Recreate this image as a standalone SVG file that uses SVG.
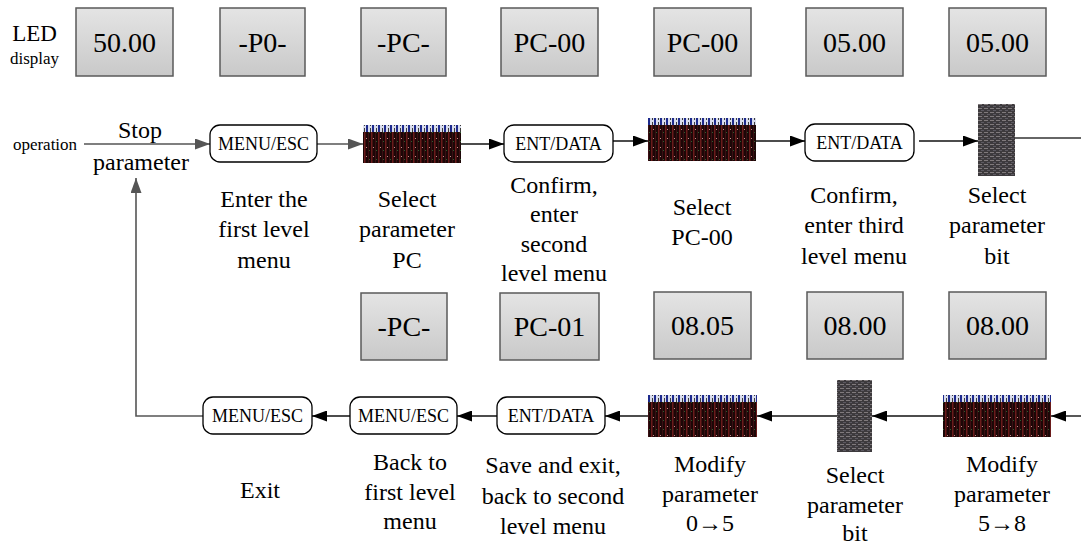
<svg xmlns="http://www.w3.org/2000/svg" width="1081" height="544" viewBox="0 0 1081 544" font-family="'Liberation Serif', Tinos, 'Times New Roman', Times, 'DejaVu Serif', serif">
<defs>
<linearGradient id="lcd" x1="0" y1="0" x2="0" y2="1">
<stop offset="0" stop-color="#e4e4e4"/>
<stop offset="1" stop-color="#c9c9c9"/>
</linearGradient>
<pattern id="keys" width="7" height="9" patternUnits="userSpaceOnUse">
<rect width="7" height="9" fill="#1c0707"/>
<rect x="0" width="1.5" height="9" fill="#6a1b1b"/>
<rect x="4" width="1" height="9" fill="#3a0f12"/>
<rect x="2" y="3" width="1" height="1" fill="#c98a8a"/>
<rect x="5" y="6" width="1" height="1" fill="#2f5e2f"/>
</pattern>
<pattern id="band" width="6" height="6" patternUnits="userSpaceOnUse">
<rect width="6" height="6" fill="#d8dcec"/>
<rect x="0" width="2" height="6" fill="#1d2a8c"/>
<rect x="4" y="2" width="1" height="4" fill="#3b3b3b"/>
</pattern>
<pattern id="tex" width="6" height="4" patternUnits="userSpaceOnUse">
<rect width="6" height="4" fill="#3d3a3d"/>
<rect y="0" width="4" height="1" fill="#807a7c"/>
<rect x="3" y="2" width="3" height="1" fill="#5d5a62"/>
</pattern>
<marker id="ab" markerWidth="15" markerHeight="11" refX="15" refY="5.5" orient="auto" markerUnits="userSpaceOnUse">
<path d="M0,0 L15,5.5 L0,11 z" fill="#000"/>
</marker>
<marker id="ag" markerWidth="15" markerHeight="11" refX="15" refY="5.5" orient="auto" markerUnits="userSpaceOnUse">
<path d="M0,0 L15,5.5 L0,11 z" fill="#555"/>
</marker>
</defs>
<style>
text{fill:#000;text-anchor:middle}
.lcd rect{fill:url(#lcd);stroke:#5a5a5a;stroke-width:1.5}
.lcd text{font-size:28px}
.btn rect{fill:#fff;stroke:#000;stroke-width:1.3}
.btn text{font-size:18px}
.lbl text{font-size:24px}
.key .k{fill:url(#keys)}
.key .b{fill:url(#band)}
.key .v{fill:url(#tex)}
.cb{fill:none;stroke:#111;stroke-width:1.4;marker-end:url(#ab)}
.cg{fill:none;stroke:#555;stroke-width:1.6;marker-end:url(#ag)}
.cn{fill:none;stroke:#333;stroke-width:1.4}
</style>

<g id="legend">
<text x="34.5" y="41" style="font-size:23px">LED</text>
<text x="34.5" y="64" style="font-size:17px">display</text>
<text x="45" y="150" style="font-size:17px">operation</text>
<text x="140" y="138" style="font-size:24px">Stop</text>
<text x="141" y="170" style="font-size:24px">parameter</text>
</g>

<!-- top LED row -->
<g id="led1" class="lcd"><rect x="76" y="8" width="97" height="68"/><text x="124.5" y="52">50.00</text></g>
<g id="led2" class="lcd"><rect x="220" y="8" width="85" height="68"/><text x="262.5" y="52">-P0-</text></g>
<g id="led3" class="lcd"><rect x="361" y="8" width="85" height="68"/><text x="403.5" y="52">-PC-</text></g>
<g id="led4" class="lcd"><rect x="501" y="8" width="97" height="68"/><text x="549.5" y="52">PC-00</text></g>
<g id="led5" class="lcd"><rect x="654" y="8" width="97" height="68"/><text x="702.5" y="52">PC-00</text></g>
<g id="led6" class="lcd"><rect x="806" y="8" width="97" height="68"/><text x="854.5" y="52">05.00</text></g>
<g id="led7" class="lcd"><rect x="949" y="8" width="97" height="68"/><text x="997.5" y="52">05.00</text></g>

<!-- bottom LED row -->
<g id="led8" class="lcd"><rect x="361" y="293" width="86" height="67"/><text x="404" y="336">-PC-</text></g>
<g id="led9" class="lcd"><rect x="500" y="293" width="99" height="67"/><text x="549.5" y="336">PC-01</text></g>
<g id="led10" class="lcd"><rect x="654" y="292" width="97" height="67"/><text x="702.5" y="335">08.05</text></g>
<g id="led11" class="lcd"><rect x="807" y="292" width="96" height="67"/><text x="855" y="335">08.00</text></g>
<g id="led12" class="lcd"><rect x="949" y="292" width="97" height="67"/><text x="997.5" y="335">08.00</text></g>

<!-- connectors -->
<g id="connectors">
<path class="cg" d="M84,144 H210"/>
<path class="cg" d="M317,144 H363"/>
<path class="cb" d="M461,144 H504"/>
<path class="cb" d="M613,141 H648"/>
<path class="cb" d="M756,141 H805"/>
<path class="cb" d="M919,141 H978"/>
<path class="cn" d="M1015,138 H1081"/>
<path class="cb" d="M1081,416 H1051"/>
<path class="cb" d="M943,416 H872"/>
<path class="cb" d="M837,416 H757"/>
<path class="cb" d="M648,416 H605"/>
<path class="cb" d="M497,416 H457"/>
<path class="cb" d="M350,416 H312"/>
<path class="cg" d="M203,416 H136 V178"/>
</g>

<!-- top operation row -->
<g id="btn1" class="btn"><rect x="210" y="125" width="107" height="37" rx="10"/><text x="263.5" y="150">MENU/ESC</text></g>
<g id="key1" class="key"><rect class="k" x="363" y="125" width="98" height="38"/><rect class="b" x="363" y="125" width="98" height="7"/></g>
<g id="btn2" class="btn"><rect x="504" y="125" width="109" height="37" rx="10"/><text x="558.5" y="150">ENT/DATA</text></g>
<g id="key2" class="key"><rect class="k" x="648" y="118" width="108" height="43"/><rect class="b" x="648" y="118" width="108" height="7"/></g>
<g id="btn3" class="btn"><rect x="805" y="124" width="109" height="37" rx="10"/><text x="859.5" y="149">ENT/DATA</text></g>
<g id="key3" class="key"><rect class="v" x="978" y="104" width="37" height="72"/></g>

<!-- bottom operation row -->
<g id="btn4" class="btn"><rect x="203" y="397" width="109" height="37" rx="10"/><text x="257.5" y="422">MENU/ESC</text></g>
<g id="btn5" class="btn"><rect x="350" y="397" width="107" height="37" rx="10"/><text x="403.5" y="422">MENU/ESC</text></g>
<g id="btn6" class="btn"><rect x="497" y="397" width="108" height="37" rx="10"/><text x="551" y="422">ENT/DATA</text></g>
<g id="key4" class="key"><rect class="k" x="648" y="395" width="109" height="42"/><rect class="b" x="648" y="395" width="109" height="7"/></g>
<g id="key5" class="key"><rect class="v" x="837" y="380" width="35" height="72"/></g>
<g id="key6" class="key"><rect class="k" x="943" y="395" width="108" height="42"/><rect class="b" x="943" y="395" width="108" height="7"/></g>

<!-- labels top -->
<g id="lbl1" class="lbl"><text x="264" y="207">Enter the</text><text x="264" y="237">first level</text><text x="264" y="268">menu</text></g>
<g id="lbl2" class="lbl"><text x="407" y="207">Select</text><text x="407" y="237">parameter</text><text x="407" y="268">PC</text></g>
<g id="lbl3" class="lbl"><text x="554" y="193">Confirm,</text><text x="554" y="222">enter</text><text x="554" y="252">second</text><text x="554" y="281">level menu</text></g>
<g id="lbl4" class="lbl"><text x="702" y="215">Select</text><text x="702" y="245">PC-00</text></g>
<g id="lbl5" class="lbl"><text x="854" y="203">Confirm,</text><text x="854" y="233">enter third</text><text x="854" y="264">level menu</text></g>
<g id="lbl6" class="lbl"><text x="997" y="203">Select</text><text x="997" y="233">parameter</text><text x="997" y="264">bit</text></g>

<!-- labels bottom -->
<g id="lbl7" class="lbl"><text x="260" y="498">Exit</text></g>
<g id="lbl8" class="lbl"><text x="410" y="470">Back to</text><text x="410" y="500">first level</text><text x="410" y="529">menu</text></g>
<g id="lbl9" class="lbl"><text x="553" y="473">Save and exit,</text><text x="553" y="504">back to second</text><text x="553" y="534">level menu</text></g>
<g id="lbl10" class="lbl"><text x="710" y="472">Modify</text><text x="710" y="502">parameter</text><text x="710" y="531">0→5</text></g>
<g id="lbl11" class="lbl"><text x="855" y="483">Select</text><text x="855" y="513">parameter</text><text x="855" y="541">bit</text></g>
<g id="lbl12" class="lbl"><text x="1002" y="472">Modify</text><text x="1002" y="502">parameter</text><text x="1002" y="531">5→8</text></g>
</svg>
